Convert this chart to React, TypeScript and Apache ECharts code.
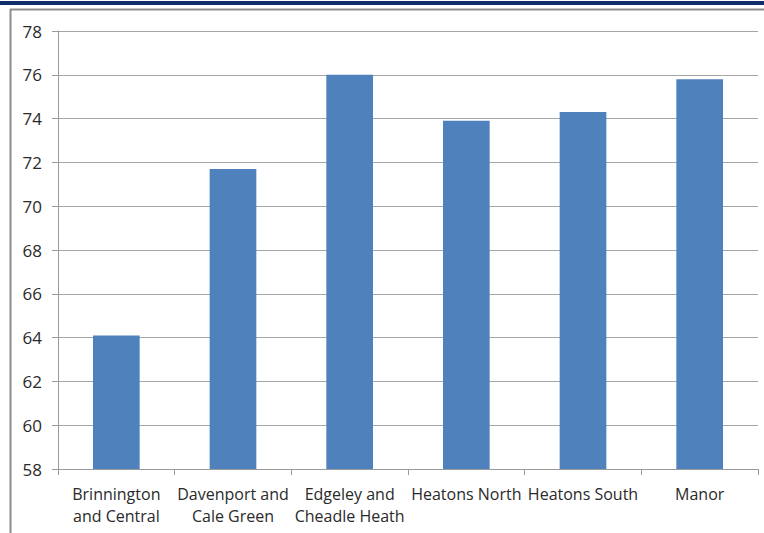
import React, { useEffect, useRef } from "react";
import * as echarts from "echarts";

const categories = [
  "Brinnington\nand Central",
  "Davenport and\nCale Green",
  "Edgeley and\nCheadle Heath",
  "Heatons North",
  "Heatons South",
  "Manor",
];
const values = [64.1, 71.7, 76.0, 73.9, 74.3, 75.8];
const yMin = 58;
const yMax = 78;
const yStep = 2;

export default function App() {
  const ref = useRef<HTMLDivElement>(null);
  useEffect(() => {
    document.body.style.margin = "0";
    const chart = echarts.init(ref.current!, null, { renderer: "svg" });
    const font = "'Open Sans', 'Noto Sans', sans-serif";
    chart.setOption({
      animation: false,
      backgroundColor: "#ffffff",
      textStyle: { fontFamily: font },
      grid: { left: 58, right: 6, top: 31, bottom: 64, containLabel: false },
      graphic: [
        { type: "rect", shape: { x: 0, y: 1, width: 764, height: 4 }, style: { fill: "#0f2c6b" }, silent: true },
        { type: "line", shape: { x1: 10, y1: 9.5, x2: 764, y2: 9.5 }, style: { stroke: "#8c8c8c", lineWidth: 2 }, silent: true },
        { type: "line", shape: { x1: 10.5, y1: 9, x2: 10.5, y2: 533 }, style: { stroke: "#8c8c8c", lineWidth: 2 }, silent: true },
      ],
      xAxis: {
        type: "category",
        data: categories,
        boundaryGap: true,
        axisLine: { lineStyle: { color: "#9a9a9a", width: 1 } },
        axisTick: { show: true, length: 6, lineStyle: { color: "#9a9a9a" } },
        axisLabel: {
          interval: 0,
          color: "#2a2a2a",
          fontSize: 16,
          lineHeight: 22,
          margin: 14,
          fontFamily: font,
        },
      },
      yAxis: {
        type: "value",
        min: yMin,
        max: yMax,
        interval: yStep,
        axisLine: { show: true, lineStyle: { color: "#9a9a9a", width: 1 } },
        axisTick: { show: true, length: 6, lineStyle: { color: "#9a9a9a" } },
        splitLine: { show: true, lineStyle: { color: "#a6a6a6", width: 1 } },
        axisLabel: { color: "#2a2a2a", fontSize: 17, margin: 16, fontFamily: font },
      },
      series: [
        {
          type: "bar",
          data: values,
          barWidth: "40%",
          itemStyle: { color: "#4f81bd" },
        },
      ],
    });
    return () => chart.dispose();
  }, []);
  return (
    <div
      ref={ref}
      style={{ position: "absolute", left: 0, top: 0, width: 764, height: 533 }}
    />
  );
}
